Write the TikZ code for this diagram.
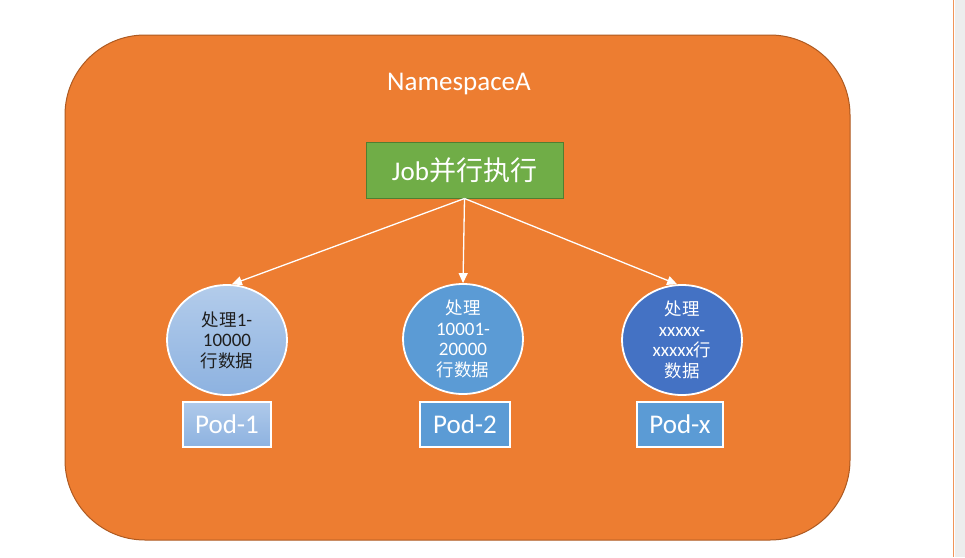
\documentclass[tikz,border=0pt]{standalone}
\usepackage{fontspec}
\setmainfont{Carlito}
\newfontfamily\cjk{Noto Sans CJK SC}
\newfontfamily\cjks[Scale=0.92]{Noto Sans CJK SC}
\usetikzlibrary{shapes.geometric,arrows.meta}
\definecolor{nsorange}{HTML}{ED7D31}
\definecolor{nsborder}{HTML}{AE5A21}
\definecolor{jobgreen}{HTML}{70AD47}
\definecolor{jobborder}{HTML}{507E32}
\definecolor{midblue}{HTML}{5B9BD5}
\definecolor{darkblue}{HTML}{4472C4}
\definecolor{lighttop}{HTML}{B3CCEB}
\definecolor{lightbot}{HTML}{8DB2E0}
\definecolor{striporange}{HTML}{F0955A}
\definecolor{stripgrey}{HTML}{EDEDED}
\tikzset{
  podcircle/.style={ellipse, draw=white, line width=1.8pt, minimum width=120pt, minimum height=110pt, inner sep=0pt, align=center, font=\fontsize{19}{20.5}\selectfont},
  podbox/.style={rectangle, draw=white, line width=1.5pt, minimum height=45pt, inner sep=0pt, text=white, font=\fontsize{27}{30}\selectfont},
  conn/.style={draw=white, line width=1.3pt, -{Triangle[length=10pt,width=9pt]}},
}
\begin{document}
\begin{tikzpicture}[x=1pt,y=-1pt]
\useasboundingbox (0,0) rectangle (965,557);
\fill[white] (0,0) rectangle (965,557);
% right strip
\fill[stripgrey] (954.5,0) rectangle (965,557);
\draw[striporange, line width=1.2pt] (953.5,0) -- (953.5,557);
% namespace box
\node[draw=nsborder, fill=nsorange, line width=1pt, rounded corners=80pt, minimum width=785pt, minimum height=505pt, inner sep=0pt] (ns) at (457.5,287.5) {};
\node[anchor=base, text=white, font=\fontsize{27}{30}\selectfont] (title) at (459,90) {NamespaceA};
% job
\node[draw=jobborder, fill=jobgreen, line width=1pt, minimum width=197pt, minimum height=56pt, inner sep=0pt, text=white, font=\fontsize{27}{30}\selectfont] (job) at (464.5,170) {Job{\cjk 并行执行}};
% circles
\node[podcircle, top color=lighttop, bottom color=lightbot, text=black!88] (c1) at (227,340) {{\cjks 处理}1-\\10000\\{\cjks 行数据}};
\node[podcircle, fill=midblue, text=white] (c2) at (463,339) {{\cjks 处理}\\10001-\\20000\\{\cjks 行数据}};
\node[podcircle, fill=darkblue, text=white] (c3) at (682,340) {{\cjks 处理}\\xxxxx-\\xxxxx{\cjks 行}\\{\cjks 数据}};
% pods
\node[podbox, minimum width=88pt, top color=lighttop!90!lightbot, bottom color=lightbot] (p1) at (227,424.5) {Pod-1};
\node[podbox, minimum width=90pt, fill=midblue] (p2) at (465,424.5) {Pod-2};
\node[podbox, minimum width=86pt, fill=midblue] (p3) at (680,424.5) {Pod-x};
% connectors
\draw[conn] (job.south) -- (c1.85);
\draw[conn] (job.south) -- (c2.north);
\draw[conn] (job.south) -- (c3.95);
\end{tikzpicture}
\end{document}
